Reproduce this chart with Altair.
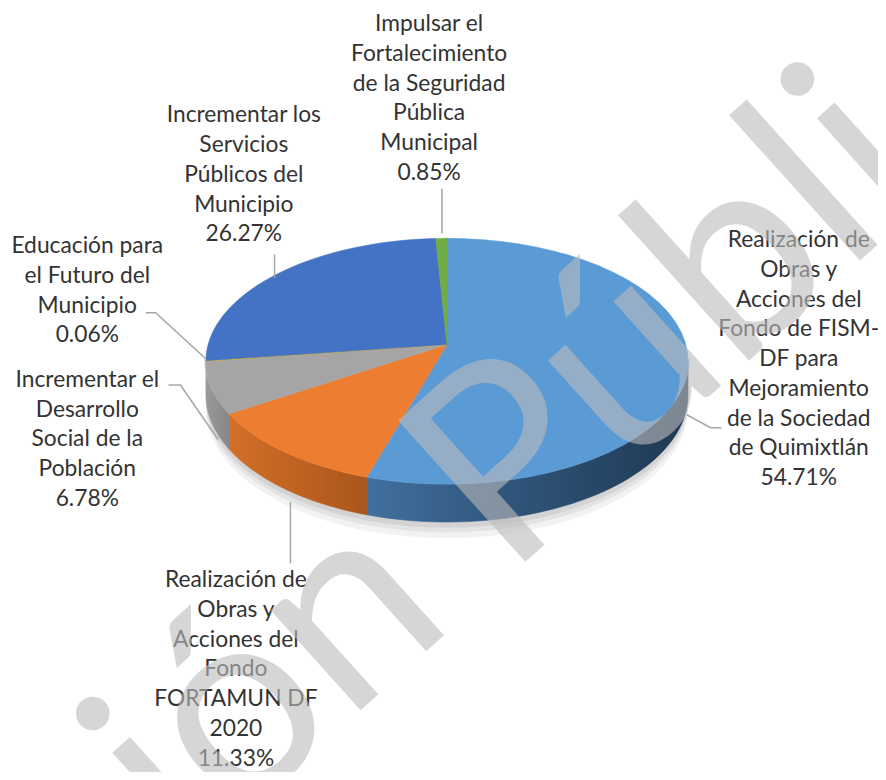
import math
import altair as alt
import pandas as pd

# ---------------- data ----------------
names = [
    "Realización de\nObras y\nAcciones del\nFondo de FISM-\nDF para\nMejoramiento\nde la Sociedad\nde Quimixtlán",
    "Realización de\nObras y\nAcciones del\nFondo\nFORTAMUN DF\n2020",
    "Incrementar el\nDesarrollo\nSocial de la\nPoblación",
    "Educación para\nel Futuro del\nMunicipio",
    "Incrementar los\nServicios\nPúblicos del\nMunicipio",
    "Impulsar el\nFortalecimiento\nde la Seguridad\nPública\nMunicipal",
]
shares = [54.71, 11.33, 6.78, 0.06, 26.27, 0.85]
colors = ["#5B9BD5", "#ED7D31", "#A5A5A5", "#FFC000", "#4472C4", "#70AD47"]
watermark = "Versión Pública"

# ---------------- layout (pixels of the page) ----------------
label_x = [806, 238, 88, 88, 246, 433]
label_y = [239, 582, 380, 245, 113, 21]       # centre of first line
leaders = [
    [(693, 415), (717, 428), (728, 428)],
    [(293, 503), (293, 565)],
    [(170, 385), (182, 385), (220, 440)],
    [(147, 312), (157, 312), (207, 358)],
    [(277, 253), (277, 277)],
    [(446, 187), (446, 232)],
]
CX, CY, A, B, K, D = 451, 344, 241, 121.7, 0.137, 33
N = 40
TS = math.degrees(math.acos(-K)) / 360 * 100      # silhouette (percent units)
T1, T2 = TS, 100 - TS

W, H = 878, 764
xs = alt.Scale(domain=[8, 8 + W], nice=False, zero=False)
ys = alt.Scale(domain=[8, 8 + H], nice=False, zero=False, reverse=True)
cscale = alt.Scale(domain=names, range=colors)
X = alt.X("px:Q", scale=xs, axis=None)
Y = alt.Y("py:Q", scale=ys, axis=None)

df = pd.DataFrame({"k": list(range(len(names))), "name": names, "pct": shares})


def geom(chart):
    return (chart
            .transform_window(cum="sum(pct)", sort=[alt.SortField("k", order="ascending")], frame=[None, 0])
            .transform_calculate(start="datum.cum - datum.pct"))


def proj(chart, tfield):
    return (chart
            .transform_calculate(th=f"2*PI*({tfield})/100")
            .transform_calculate(u="sin(datum.th)")
            .transform_calculate(v="-cos(datum.th)")
            .transform_calculate(s=f"1/(1-{K}*datum.v)"))


def band(chart, extra, dy0=0):
    """closed band between rim (a..b) and rim shifted down by D*s + extra"""
    c = (chart.transform_calculate(pts=f"sequence(0, {2*N+2})")
              .transform_flatten(["pts"])
              .transform_calculate(j=f"datum.pts <= {N} ? datum.pts : {2*N+1} - datum.pts"))
    c = proj(c, f"datum.a + (datum.b - datum.a)*datum.j/{N}")
    return (c.transform_calculate(px=f"{CX} + {A}*datum.u*datum.s")
             .transform_calculate(py=f"{CY} + {B}*datum.v*datum.s + (datum.pts <= {N} ? {dy0} : ({D}+{extra})*datum.s)"))


# ---- soft shadow under the pie ----
shadows = []
for extra, op in [(14, 0.05), (9, 0.06), (5, 0.07)]:
    c = (alt.Chart(df).transform_aggregate(total="sum(pct)")
         .transform_calculate(a=f"{T1} - 0.5")
         .transform_calculate(b=f"{T2} + 0.5"))
    c = band(c, extra)
    shadows.append(c.mark_line(interpolate="linear-closed", fill="#000000", fillOpacity=op,
                               strokeWidth=0).encode(x=X, y=Y, order=alt.Order("pts:Q")))

# ---- side walls ----
wall_styles = {
    0: ([("#41709F", 0), ("#335A82", 0.35), ("#1F3852", 1)], "#8CC0EE"),
    1: ([("#D36F28", 0), ("#A9561C", 1)], "#F7A466"),
    2: ([("#9A9A9A", 0), ("#868686", 1)], "#C8C8C8"),
}
walls, rims = [], []
for k, (stops, light) in wall_styles.items():
    grad = alt.Gradient(gradient="linear",
                        stops=[alt.GradientStop(color=c, offset=o) for c, o in stops],
                        x1=0, x2=1, y1=0, y2=0)
    c = geom(alt.Chart(df))
    c = (c.transform_filter(f"datum.k == {k}")
          .transform_calculate(a=f"max(datum.start, {T1})")
          .transform_calculate(b=f"min(datum.cum, {T2})")
          .transform_filter("datum.b > datum.a"))
    c = band(c, 0)
    walls.append(
        c.mark_line(interpolate="linear-closed", fill=grad, stroke=grad, strokeWidth=0.6)
         .encode(x=X, y=Y, order=alt.Order("pts:Q"))
    )
    rims.append(
        c.transform_filter(f"datum.pts <= {N}")
         .transform_calculate(py2="datum.py - 3")
         .mark_line(color=light, strokeWidth=4, opacity=0.55)
         .encode(x=X, y=alt.Y("py2:Q", scale=ys, axis=None), order=alt.Order("pts:Q"))
    )

# ---- top faces ----
t = geom(alt.Chart(df))
t = (t.transform_calculate(pts=f"sequence(0, {N+2})")
      .transform_flatten(["pts"]))
t = proj(t, f"datum.start + datum.pct*min(datum.pts, {N})/{N}")
t = (t.transform_calculate(px=f"datum.pts <= {N} ? {CX} + {A}*datum.u*datum.s : {CX}")
      .transform_calculate(py=f"datum.pts <= {N} ? {CY} + {B}*datum.v*datum.s : {CY}"))
top = t.mark_line(interpolate="linear-closed", strokeWidth=0.6).encode(
    x=X, y=Y,
    fill=alt.Fill("name:N", scale=cscale, legend=None),
    stroke=alt.Stroke("name:N", scale=cscale, legend=None),
    detail="k:N",
    order=alt.Order("pts:Q"),
)

# ---- leader lines ----
lead_rows = []
for k, pts in enumerate(leaders):
    for i, (x, y) in enumerate(pts):
        lead_rows.append({"k": k, "i": i, "lx": x, "ly": y})
lead = alt.Chart(pd.DataFrame(lead_rows)).mark_line(color="#A6A6A6", strokeWidth=1.5).encode(
    x=alt.X("lx:Q", scale=xs, axis=None),
    y=alt.Y("ly:Q", scale=ys, axis=None),
    detail="k:N",
    order=alt.Order("i:Q"),
)

# ---- labels ----
ldf = df.copy()
ldf["lx"] = label_x
ldf["ly"] = label_y
labels = alt.Chart(ldf).transform_calculate(
    label="datum.name + '\\n' + format(datum.pct, '.2f') + '%'"
).mark_text(align="center", baseline="middle", lineBreak="\n", lineHeight=30,
            font="Lato", fontSize=23, color="#333333").encode(
    x=alt.X("lx:Q", scale=xs, axis=None),
    y=alt.Y("ly:Q", scale=ys, axis=None),
    text="label:N",
)

# ---- watermark ----
wm = alt.Chart(pd.DataFrame({"t": [watermark], "wx": [474], "wy": [614]})).mark_text(
    align="center", baseline="alphabetic", font="Lato", fontSize=268, angle=318,
    color="#BCBCBC", opacity=0.6,
).encode(
    x=alt.X("wx:Q", scale=xs, axis=None),
    y=alt.Y("wy:Q", scale=ys, axis=None),
    text="t:N",
)

chart = alt.layer(*shadows, *walls, *rims, top, lead, labels, wm).properties(
    width=W, height=H, padding=0,
    autosize=alt.AutoSizeParams(type="none"),
    background="white",
).configure_view(stroke=None)

chart.save("out.html", embed_options={"renderer": "svg", "actions": False})
